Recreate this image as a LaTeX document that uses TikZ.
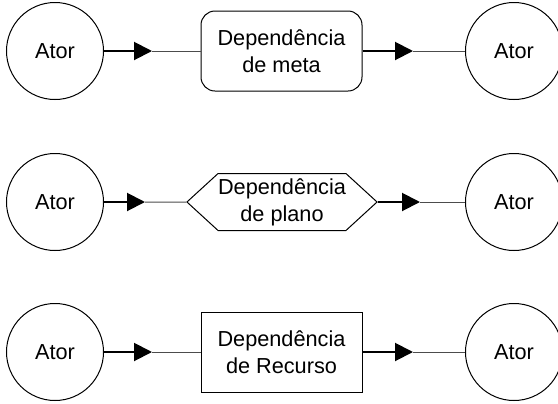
\documentclass[tikz,border=0pt]{standalone}
\usepackage{fontspec}
\setmainfont{Liberation Sans}
\usetikzlibrary{arrows.meta,shapes.symbols}

\begin{document}
\begin{tikzpicture}[x=0.5pt,y=-0.5pt,
		every node/.style={font=\fontsize{10.85}{13.5}\selectfont, align=center, inner sep=0pt},
		ator/.style={draw, circle, line width=0.5pt, minimum size=48.5pt},
		metabox/.style={draw, rounded corners=7pt, line width=0.5pt, minimum width=80.5pt, minimum height=40pt},
		planobox/.style={draw, signal, signal to=west and east, signal pointer angle=85, line width=0.5pt, minimum width=95pt, minimum height=28.5pt},
		recursobox/.style={draw, rectangle, line width=0.5pt, minimum width=80.5pt, minimum height=40pt},
		heavy/.style={line width=1pt, -{Triangle[length=9pt,width=9pt]}},
		light/.style={line width=0.5pt, black!70}]
			\useasboundingbox (0,0) rectangle (558,403);
			% dependencia de meta
			\node[ator] (atorA) at (55,51) {Ator};
			\node[metabox] (meta) at (281.5,51) {Dependência\\de meta};
			\node[ator] (atorB) at (514,51) {Ator};
			\coordinate (tipA) at (152,51);
			\coordinate (tipB) at (413,51);
			\draw[heavy] (atorA) -- (tipA);
			\draw[light] (tipA) -- (meta);
			\draw[heavy] (meta) -- (tipB);
			\draw[light] (tipB) -- (atorB);
			% dependencia de plano
			\node[ator] (atorC) at (55,202) {Ator};
			\node[planobox] (plano) at (282,202) {Dependência\\de plano};
			\node[ator] (atorD) at (514,202) {Ator};
			\coordinate (tipC) at (145,202);
			\coordinate (tipD) at (420,202);
			\draw[heavy] (atorC) -- (tipC);
			\draw[light] (tipC) -- (plano);
			\draw[heavy] (plano) -- (tipD);
			\draw[light] (tipD) -- (atorD);
			% dependencia de recurso
			\node[ator] (atorE) at (55,352) {Ator};
			\node[recursobox] (recurso) at (281.5,352) {Dependência\\de Recurso};
			\node[ator] (atorF) at (514,352) {Ator};
			\coordinate (tipE) at (152,352);
			\coordinate (tipF) at (413,352);
			\draw[heavy] (atorE) -- (tipE);
			\draw[light] (tipE) -- (recurso);
			\draw[heavy] (recurso) -- (tipF);
			\draw[light] (tipF) -- (atorF);
		\end{tikzpicture}
\end{document}
